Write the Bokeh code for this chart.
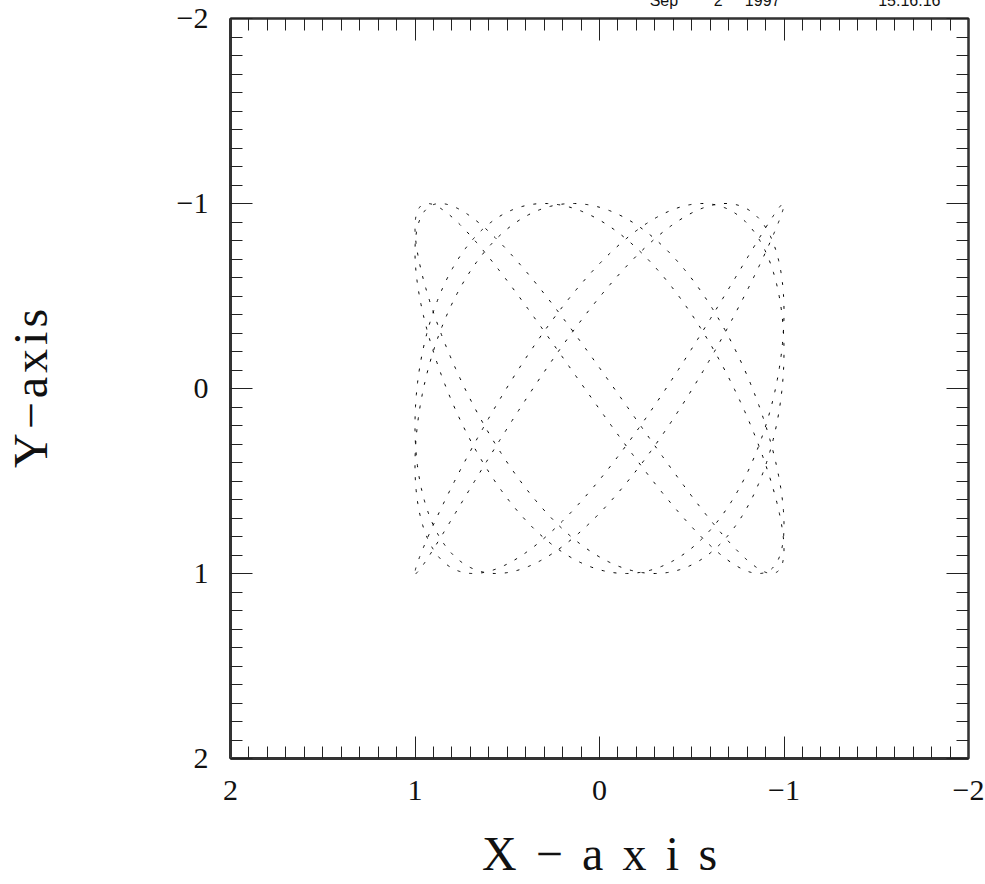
import numpy as np
from bokeh.plotting import figure
from bokeh.models import Range1d, LinearAxis, FixedTicker, Title
from bokeh.embed import file_html
from bokeh.resources import INLINE

# Lissajous figure x = cos(freq_x * t + phase), y = cos(freq_y * t)
freq_x = 5
freq_y = 7
phase = 0.08
amplitude = 1.0

major_ticks = [-2, -1, 0, 1, 2]
tick_labels = ["\u22122", "\u22121", "0", "1", "2"]
minor_step = 0.1

x_title = "X\u2009\u2009\u2212\u2009\u2009a\u2009\u2009x\u2009\u2009i\u2009\u2009s"
y_title = "Y\u200a\u2212\u200aa\u200ax\u200ai\u200as"
stamp_parts = ["Sep", "2", "1997", "15:16:16"]
stamp_gaps = [8, 5, 22]

SERIF = "Liberation Serif"
SANS = "Liberation Sans"

t = np.linspace(0.0, 2.0 * np.pi, 4000)
xs = amplitude * np.cos(freq_x * t + phase)
ys = amplitude * np.cos(freq_y * t)

# The canvas is 22 px taller than the window and is pulled up by that much,
# so that the date stamp sits mostly outside the top edge.
p = figure(width=985, height=906,
           x_range=Range1d(2, -2), y_range=Range1d(2, -2),
           output_backend="svg", toolbar_location=None,
           min_border_left=228, min_border_right=17,
           min_border_top=40, min_border_bottom=126,
           styles={"margin-top": "-22px"})
p.grid.visible = False
p.background_fill_color = "white"
p.border_fill_color = "white"
p.outline_line_color = "#222222"
p.outline_line_width = 2

minor = list(np.round(np.arange(-2.0, 2.0001, minor_step), 2))
overrides = {v: s for v, s in zip(major_ticks, tick_labels)}
blank = {v: "" for v in major_ticks}


def style_axis(ax, show_labels, line_width):
    ax.ticker = FixedTicker(ticks=major_ticks, minor_ticks=minor)
    ax.major_tick_in = 22
    ax.major_tick_out = 0
    ax.minor_tick_in = 12
    ax.minor_tick_out = 0
    ax.major_tick_line_color = "#222222"
    ax.minor_tick_line_color = "#222222"
    ax.major_tick_line_width = 1
    ax.minor_tick_line_width = 1
    ax.axis_line_color = "#333333"
    ax.axis_line_width = line_width
    if show_labels:
        ax.major_label_overrides = overrides
        ax.major_label_text_font = SERIF
        ax.major_label_text_font_size = "30px"
        ax.major_label_text_color = "#111111"
        ax.major_label_standoff = 22
        ax.axis_label_text_font = SERIF
        ax.axis_label_text_font_style = "normal"
        ax.axis_label_text_color = "#111111"
    else:
        ax.major_label_overrides = blank
        ax.major_label_text_font_size = "0px"
        ax.major_label_standoff = 0


xax = p.xaxis[0]
yax = p.yaxis[0]
style_axis(xax, True, 3)
style_axis(yax, True, 3)

xax.axis_label = x_title
xax.axis_label_text_font_size = "48px"
xax.axis_label_standoff = 24

yax.axis_label = y_title
yax.axis_label_text_font_size = "48px"
yax.axis_label_standoff = 117

top_axis = LinearAxis()
style_axis(top_axis, False, 2)
p.add_layout(top_axis, "above")

right_axis = LinearAxis()
style_axis(right_axis, False, 2)
p.add_layout(right_axis, "right")

p.line(xs, ys, line_color="black", line_width=1, line_dash="3 9")

# date stamp, right-aligned above the frame
stamp = stamp_parts[0]
for gap, part in zip(stamp_gaps, stamp_parts[1:]):
    stamp += "\u00a0" * gap + part
p.add_layout(Title(text=stamp, align="right", offset=28, standoff=20,
                   text_font=SANS, text_font_size="16px",
                   text_font_style="normal", text_color="#111111"), "above")

open("out.html", "w").write(file_html(p, INLINE))
